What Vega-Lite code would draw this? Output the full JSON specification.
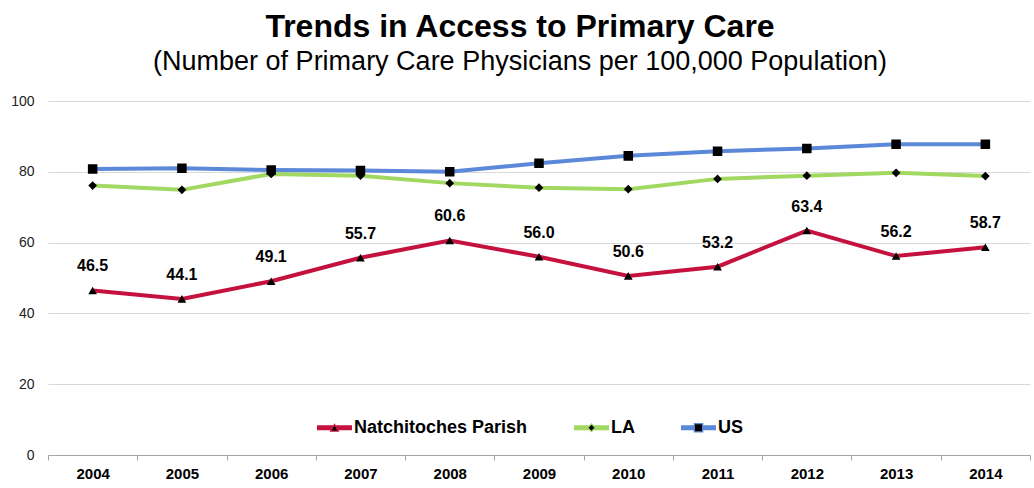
{
  "$schema": "https://vega.github.io/schema/vega-lite/v6.json",
  "autosize": "none",
  "padding": {"left": 48, "top": 101, "right": 4, "bottom": 33},
  "width": 982,
  "height": 354,
  "background": "white",
  "title": {
    "text": "Trends in Access to Primary Care",
    "subtitle": "(Number of Primary Care Physicians per 100,000 Population)",
    "anchor": "middle",
    "dx": -19,
    "offset": 18,
    "font": "Liberation Sans",
    "fontSize": 32,
    "fontWeight": "bold",
    "color": "black",
    "subtitleFont": "Liberation Sans",
    "subtitleFontSize": 27,
    "subtitleColor": "black",
    "subtitlePadding": 5
  },
  "config": {
    "view": {"stroke": null},
    "axis": {"labelFont": "Liberation Sans"},
    "legend": {
      "title": null,
      "orient": "none",
      "direction": "horizontal",
      "legendX": 268,
      "legendY": 308,
      "symbolSize": 1225,
      "symbolStrokeWidth": 1.2,
      "symbolFillColor": "black",
      "labelFont": "Liberation Sans",
      "labelFontSize": 18,
      "labelFontWeight": "bold",
      "labelColor": "black",
      "labelLimit": 400,
      "labelOffset": 1,
      "columnPadding": 43
    }
  },
  "data": {
    "values": [
      {"year": "2004", "series": "Natchitoches Parish", "value": 46.5},
      {"year": "2005", "series": "Natchitoches Parish", "value": 44.1},
      {"year": "2006", "series": "Natchitoches Parish", "value": 49.1},
      {"year": "2007", "series": "Natchitoches Parish", "value": 55.7},
      {"year": "2008", "series": "Natchitoches Parish", "value": 60.6},
      {"year": "2009", "series": "Natchitoches Parish", "value": 56.0},
      {"year": "2010", "series": "Natchitoches Parish", "value": 50.6},
      {"year": "2011", "series": "Natchitoches Parish", "value": 53.2},
      {"year": "2012", "series": "Natchitoches Parish", "value": 63.4},
      {"year": "2013", "series": "Natchitoches Parish", "value": 56.2},
      {"year": "2014", "series": "Natchitoches Parish", "value": 58.7},
      {"year": "2004", "series": "LA", "value": 76.1},
      {"year": "2005", "series": "LA", "value": 74.9},
      {"year": "2006", "series": "LA", "value": 79.4},
      {"year": "2007", "series": "LA", "value": 78.9},
      {"year": "2008", "series": "LA", "value": 76.8},
      {"year": "2009", "series": "LA", "value": 75.5},
      {"year": "2010", "series": "LA", "value": 75.1},
      {"year": "2011", "series": "LA", "value": 78.0},
      {"year": "2012", "series": "LA", "value": 78.9},
      {"year": "2013", "series": "LA", "value": 79.7},
      {"year": "2014", "series": "LA", "value": 78.8},
      {"year": "2004", "series": "US", "value": 80.8},
      {"year": "2005", "series": "US", "value": 81.0},
      {"year": "2006", "series": "US", "value": 80.5},
      {"year": "2007", "series": "US", "value": 80.4},
      {"year": "2008", "series": "US", "value": 80.0},
      {"year": "2009", "series": "US", "value": 82.4},
      {"year": "2010", "series": "US", "value": 84.5},
      {"year": "2011", "series": "US", "value": 85.8},
      {"year": "2012", "series": "US", "value": 86.6},
      {"year": "2013", "series": "US", "value": 87.8},
      {"year": "2014", "series": "US", "value": 87.8}
    ]
  },
  "encoding": {
    "x": {
      "field": "year",
      "type": "ordinal",
      "bandPosition": 0.5,
      "scale": {"type": "band", "paddingInner": 0, "paddingOuter": 0},
      "axis": {
        "title": null,
        "labelAngle": 0,
        "labelFont": "Liberation Sans",
        "labelFontSize": 15,
        "labelFontWeight": "bold",
        "labelColor": "black",
        "labelPadding": 6,
        "tickBand": "extent",
        "tickSize": 5,
        "tickColor": "#a6a6a6",
        "domainColor": "#a6a6a6",
        "grid": false
      }
    },
    "y": {
      "field": "value",
      "type": "quantitative",
      "scale": {"domain": [0, 100]},
      "axis": {
        "title": null,
        "values": [0, 20, 40, 60, 80, 100],
        "labelFont": "Liberation Sans",
        "labelFontSize": 14,
        "labelColor": "#222222",
        "labelPadding": 14,
        "ticks": false,
        "domain": false,
        "grid": true,
        "gridColor": "#d9d9d9",
        "gridWidth": 1
      }
    }
  },
  "layer": [
    {
      "mark": {"type": "line", "strokeWidth": 4},
      "encoding": {
        "stroke": {
          "field": "series",
          "type": "nominal",
          "scale": {
            "domain": ["Natchitoches Parish", "LA", "US"],
            "range": ["#C5113E", "#A1D862", "#5B88D8"]
          },
          "legend": {
            "encode": {
              "symbols": {
                "update": {
                  "fill": {"value": "black"},
                  "strokeWidth": {"value": 1.2},
                  "opacity": {"value": 1},
                  "strokeCap": {"value": "butt"}
                }
              }
            }
          }
        }
      }
    },
    {
      "mark": {"type": "point", "filled": true, "fill": "black", "strokeWidth": 0, "size": 1570, "opacity": 1},
      "encoding": {
        "stroke": {
          "field": "series",
          "type": "nominal",
          "scale": {
            "domain": ["Natchitoches Parish", "LA", "US"],
            "range": ["#C5113E", "#A1D862", "#5B88D8"]
          }
        },
        "shape": {
          "field": "series",
          "type": "nominal",
          "scale": {
            "domain": ["Natchitoches Parish", "LA", "US"],
            "range": [
              "M-1,-0.11L-0.046,-0.11M0.046,-0.11L1,-0.11M-1,-0.073L-0.068,-0.073M0.068,-0.073L1,-0.073M-1,-0.037L-0.089,-0.037M0.089,-0.037L1,-0.037M-1,0L-0.11,0M0.11,0L1,0M-1,0.037L-0.131,0.037M0.131,0.037L1,0.037M-1,0.073L-0.152,0.073M0.152,0.073L1,0.073M-1,0.11L-0.174,0.11M0.174,0.11L1,0.11M0,-0.19L0.22,0.19L-0.22,0.19Z",
              "M-1,-0.11L-0.11,-0.11M0.11,-0.11L1,-0.11M-1,-0.073L-0.147,-0.073M0.147,-0.073L1,-0.073M-1,-0.037L-0.183,-0.037M0.183,-0.037L1,-0.037M-1,0L-0.22,0M0.22,0L1,0M-1,0.037L-0.183,0.037M0.183,0.037L1,0.037M-1,0.073L-0.147,0.073M0.147,0.073L1,0.073M-1,0.11L-0.11,0.11M0.11,0.11L1,0.11M0,-0.22L0.22,0L0,0.22L-0.22,0Z",
              "M-1,-0.11L-0.24,-0.11M0.24,-0.11L1,-0.11M-1,-0.073L-0.24,-0.073M0.24,-0.073L1,-0.073M-1,-0.037L-0.24,-0.037M0.24,-0.037L1,-0.037M-1,0L-0.24,0M0.24,0L1,0M-1,0.037L-0.24,0.037M0.24,0.037L1,0.037M-1,0.073L-0.24,0.073M0.24,0.073L1,0.073M-1,0.11L-0.24,0.11M0.24,0.11L1,0.11M-0.24,-0.24L0.24,-0.24L0.24,0.24L-0.24,0.24Z"
            ]
          },
          "legend": {
            "encode": {
              "symbols": {
                "update": {
                  "fill": {"value": "black"},
                  "strokeWidth": {"value": 1.2},
                  "opacity": {"value": 1},
                  "strokeCap": {"value": "butt"}
                }
              }
            }
          }
        }
      }
    },
    {
      "transform": [{"filter": "datum.series === 'Natchitoches Parish'"}],
      "mark": {
        "type": "text",
        "dy": -24,
        "font": "Liberation Sans",
        "fontSize": 16,
        "fontWeight": "bold",
        "color": "black"
      },
      "encoding": {
        "text": {"field": "value", "type": "quantitative", "format": ".1f"}
      }
    }
  ]
}
